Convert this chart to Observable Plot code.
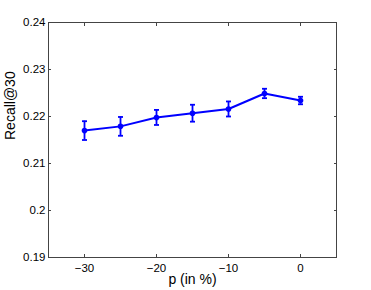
<!DOCTYPE html>
<html>
<head>
<meta charset="utf-8">
<script src="https://cdn.jsdelivr.net/npm/d3@7"></script>
<script src="https://cdn.jsdelivr.net/npm/@observablehq/plot@0.6"></script>
<style>
  html, body { margin: 0; padding: 0; background: #fff; }
</style>
</head>
<body>
<div id="chart"></div>
<script>
const pValues = [-30, -25, -20, -15, -10, -5, 0];
const recall = [0.2170, 0.2179, 0.2198, 0.2207, 0.2216, 0.2249, 0.2234];
const errors = [0.0020, 0.0020, 0.0016, 0.0018, 0.0016, 0.0010, 0.0008];
const xTicks = [-30, -20, -10, 0];
const xTickLabels = ["\u221230", "\u221220", "\u221210", "0"];
const yTicks = [0.19, 0.20, 0.21, 0.22, 0.23, 0.24];
const yTickLabels = ["0.19", "0.2", "0.21", "0.22", "0.23", "0.24"];
const xLabel = "p (in %)";
const yLabel = "Recall@30";

const data = pValues.map((p, i) => ({p, r: recall[i], lo: recall[i] - errors[i], hi: recall[i] + errors[i]}));
const capHalf = 0.35;
const blue = "#0000ff";
const axisColor = "#444";

const chart = Plot.plot({
  width: 371,
  height: 290,
  marginLeft: 48,
  marginRight: 35,
  marginTop: 22,
  marginBottom: 33,
  style: {fontFamily: "'Liberation Sans', Arial, sans-serif", background: "#fff", color: "#000"},
  x: {domain: [-35, 5]},
  y: {domain: [0.19, 0.24]},
  marks: [
    Plot.frame({stroke: axisColor, strokeWidth: 1}),
    // tick labels
    Plot.axisY({ticks: yTicks, tickSize: 0, tickPadding: 3, tickFormat: (d, i) => yTickLabels[i], fontSize: 11.5, label: null, fill: "#000"}),
    Plot.axisX({ticks: xTicks, tickSize: 0, tickPadding: 6, tickFormat: (d, i) => xTickLabels[i], fontSize: 11.5, label: null, fill: "#000"}),
    // inward ticks on all four sides
    Plot.axisY({anchor: "left", ticks: yTicks, tickSize: -3, tickFormat: () => "", label: null, stroke: axisColor}),
    Plot.axisY({anchor: "right", ticks: yTicks, tickSize: -3, tickFormat: () => "", label: null, stroke: axisColor}),
    Plot.axisX({anchor: "bottom", ticks: xTicks, tickSize: -3, tickFormat: () => "", label: null, stroke: axisColor}),
    Plot.axisX({anchor: "top", ticks: xTicks, tickSize: -3, tickFormat: () => "", label: null, stroke: axisColor}),
    // axis titles
    Plot.text([yLabel], {frameAnchor: "left", rotate: -90, dx: -38, text: d => d, fontSize: 14, fill: "#000"}),
    Plot.text([xLabel], {frameAnchor: "bottom", dy: 26, text: d => d, fontSize: 14, fill: "#000"}),
    // error bars
    Plot.ruleX(data, {x: "p", y1: "lo", y2: "hi", stroke: blue, strokeWidth: 1.8}),
    Plot.link(data, {x1: d => d.p - capHalf, x2: d => d.p + capHalf, y1: "lo", y2: "lo", stroke: blue, strokeWidth: 1.8}),
    Plot.link(data, {x1: d => d.p - capHalf, x2: d => d.p + capHalf, y1: "hi", y2: "hi", stroke: blue, strokeWidth: 1.8}),
    // line and markers
    Plot.line(data, {x: "p", y: "r", stroke: blue, strokeWidth: 2}),
    Plot.dot(data, {x: "p", y: "r", r: 2.8, fill: blue, stroke: "none"})
  ]
});
document.getElementById("chart").appendChild(chart);
</script>
</body>
</html>
